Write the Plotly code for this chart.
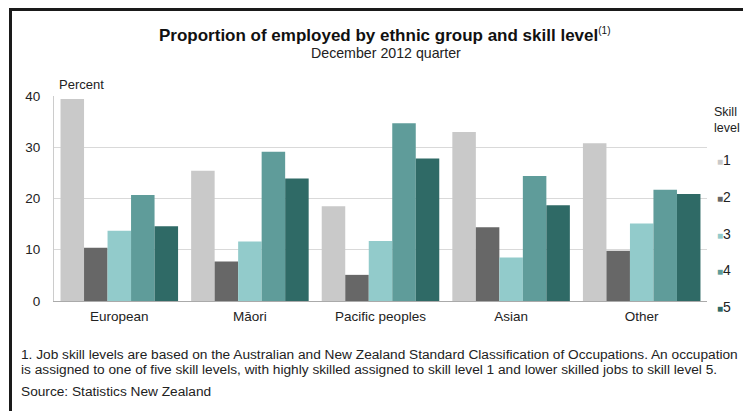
import plotly.graph_objects as go

categories = ["European", "Māori", "Pacific peoples", "Asian", "Other"]
skill_levels = ["1", "2", "3", "4", "5"]
values_level1 = [39.4, 25.4, 18.5, 33.0, 30.8]
values_level2 = [10.4, 7.7, 5.1, 14.4, 9.8]
values_level3 = [13.7, 11.6, 11.7, 8.5, 15.1]
values_level4 = [20.7, 29.1, 34.7, 24.4, 21.7]
values_level5 = [14.6, 23.9, 27.8, 18.7, 20.9]
series = [values_level1, values_level2, values_level3, values_level4, values_level5]
colors = ["#c9c9c9", "#676767", "#92cbcb", "#5f9c9a", "#2f6a66"]
y_ticks = [0, 10, 20, 30, 40]

W, H = 743, 411
ML, MR, MT, MB = 54, 36, 96, 110
PW = W - ML - MR
PH = H - MT - MB

def px_x(p):
    return (p - ML) / PW

def px_y(p):
    return (H - MB - p) / PH

FONT = "Liberation Sans, Arial, sans-serif"
TXT = "#222222"

fig = go.Figure()
for name, vals, col in zip(skill_levels, series, colors):
    fig.add_trace(go.Bar(x=categories, y=vals, name=name, marker=dict(color=col, line=dict(width=0)),
                         showlegend=False))

annotations = [
    dict(text="<b>Proportion of employed by ethnic group and skill level</b><sup><span style='font-size:10px'>(1)</span></sup>",
         x=px_x(384), y=px_y(35), xref="paper", yref="paper", xanchor="center", yanchor="middle",
         showarrow=False, font=dict(family=FONT, size=17, color="#111")),
    dict(text="December 2012 quarter", x=px_x(386), y=px_y(53), xref="paper", yref="paper",
         xanchor="center", yanchor="middle", showarrow=False, font=dict(family=FONT, size=14.2, color=TXT)),
    dict(text="Percent", x=px_x(57), y=px_y(85), xref="paper", yref="paper", xanchor="left",
         yanchor="middle", showarrow=False, font=dict(family=FONT, size=13, color=TXT)),
    dict(text="1. Job skill levels are based on the Australian and New Zealand Standard Classification of Occupations. An occupation",
         x=px_x(19), y=px_y(354), xref="paper", yref="paper", xanchor="left", yanchor="middle",
         showarrow=False, font=dict(family=FONT, size=13.7, color=TXT)),
    dict(text="is assigned to one of five skill levels, with highly skilled assigned to skill level 1 and lower skilled jobs to skill level 5.",
         x=px_x(19), y=px_y(369), xref="paper", yref="paper", xanchor="left", yanchor="middle",
         showarrow=False, font=dict(family=FONT, size=13.7, color=TXT)),
    dict(text="Source: Statistics New Zealand", x=px_x(19), y=px_y(391), xref="paper", yref="paper",
         xanchor="left", yanchor="middle", showarrow=False, font=dict(family=FONT, size=13.7, color=TXT)),
    dict(text="Skill<br>level", x=px_x(712), y=px_y(120), xref="paper", yref="paper", xanchor="left",
         yanchor="middle", showarrow=False, align="left", font=dict(family=FONT, size=12.5, color=TXT)),
]
for i, (name, col) in enumerate(zip(skill_levels, colors)):
    annotations.append(dict(
        text=f"<span style='color:{col};font-size:10px'>■</span>{name}",
        x=px_x(715), y=px_y(160 + 36.8 * i), xref="paper", yref="paper", xanchor="left", yanchor="middle",
        showarrow=False, font=dict(family=FONT, size=14, color=TXT)))

shapes = [
    dict(type="path", xref="paper", yref="paper",
         path=f"M {px_x(10.5)} {px_y(H + 5)} L {px_x(10.5)} {px_y(9.5)} L {px_x(W + 5)} {px_y(9.5)}",
         line=dict(color="#1a1a1a", width=3)),
]

fig.update_layout(
    width=W, height=H,
    margin=dict(l=ML, r=MR, t=MT, b=MB, autoexpand=False),
    paper_bgcolor="white", plot_bgcolor="white",
    barmode="group", bargap=0.1, bargroupgap=0,
    font=dict(family=FONT, size=13, color=TXT),
    annotations=annotations, shapes=shapes,
    xaxis=dict(showgrid=False, showline=True, linecolor="#aaaaaa", linewidth=1, ticks="",
               tickfont=dict(family=FONT, size=13.5, color=TXT), ticklabelstandoff=3),
    yaxis=dict(range=[0, 40], tickvals=y_ticks, showgrid=True, gridcolor="#d9d9d9", gridwidth=1,
               showline=True, linecolor="#cccccc", zeroline=False, ticks="",
               tickfont=dict(family=FONT, size=13.5, color=TXT), ticklabelstandoff=10),
)

fig.write_html("out.html", config={"displayModeBar": False},
               post_script="document.body.style.margin='0';document.body.style.overflow='hidden';")
